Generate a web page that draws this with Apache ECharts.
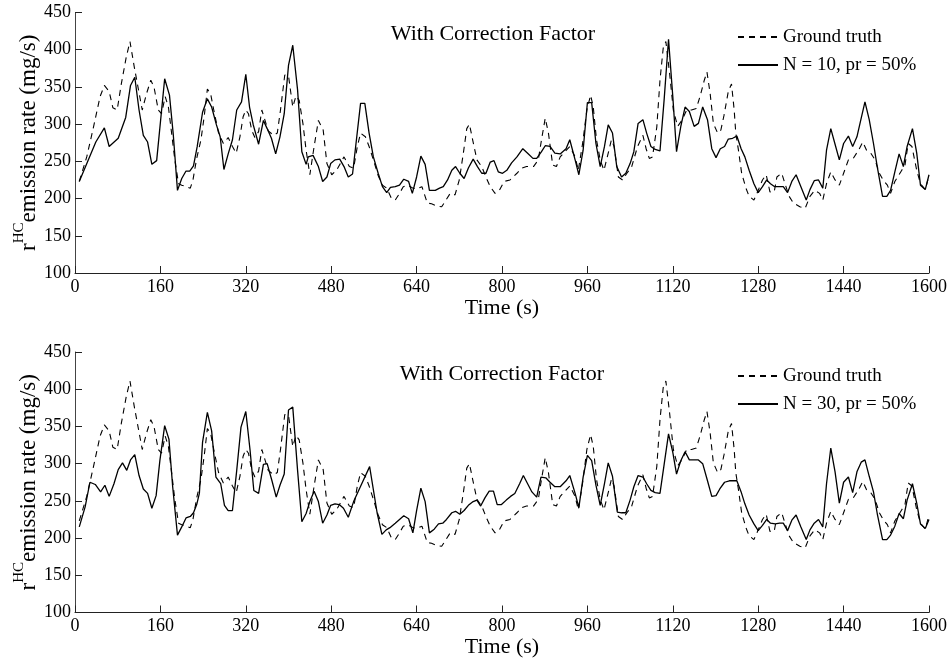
<!DOCTYPE html>
<html>
<head>
<meta charset="utf-8">
<title>HC emission rate</title>
<script src="https://cdn.jsdelivr.net/npm/echarts@6/dist/echarts.min.js"></script>
<style>
  html, body { margin: 0; padding: 0; background: #fff; }
  #chart { width: 949px; height: 660px; }
</style>
</head>
<body>
<div id="chart"></div>
<script>
// ground truth (same in both panels)
const gtTime = [8, 22, 34, 47, 55, 64, 71, 79, 87, 96, 103, 111, 119, 126, 134, 142, 148, 156, 162, 169, 175, 181, 187, 194, 200, 208, 216, 221, 228, 236, 242, 248, 254, 260, 269, 278, 287, 295, 302, 309, 315, 320, 325, 331, 337, 344, 350, 356, 362, 372, 379, 385, 393, 400, 408, 414, 420, 427, 433, 440, 448, 456, 465, 472, 481, 490, 504, 514, 522, 529, 535, 544, 551, 559, 568, 576, 584, 593, 600, 608, 615, 624, 633, 641, 650, 660, 668, 678, 687, 695, 703, 712, 720, 728, 734, 739, 745, 753, 762, 771, 778, 787, 795, 804, 815, 828, 837, 846, 859, 868, 874, 881, 887, 895, 902, 909, 918, 927, 937, 943, 951, 959, 966, 971, 977, 984, 991, 999, 1005, 1010, 1018, 1026, 1034, 1043, 1054, 1064, 1070, 1076, 1082, 1090, 1096, 1102, 1107, 1114, 1121, 1129, 1137, 1146, 1155, 1164, 1171, 1179, 1184, 1190, 1196, 1204, 1210, 1216, 1224, 1230, 1235, 1238, 1243, 1249, 1257, 1263, 1272, 1280, 1288, 1295, 1302, 1310, 1315, 1324, 1332, 1338, 1346, 1358, 1368, 1377, 1386, 1395, 1401, 1408, 1416, 1424, 1432, 1440, 1449, 1458, 1468, 1476, 1483, 1491, 1499, 1507, 1514, 1522, 1528, 1536, 1549, 1555, 1561, 1568, 1577, 1584, 1593, 1600];
const gtRate = [223, 256, 294, 337, 352, 344, 322, 319, 355, 390, 411, 377, 346, 319, 341, 359, 350, 319, 314, 337, 323, 288, 252, 220, 218, 216, 214, 225, 254, 279, 310, 347, 341, 319, 288, 274, 282, 270, 261, 283, 310, 319, 314, 292, 282, 290, 319, 305, 291, 285, 288, 319, 366, 365, 323, 338, 332, 301, 265, 232, 270, 305, 292, 247, 232, 238, 256, 243, 241, 270, 288, 283, 270, 252, 231, 218, 214, 200, 198, 207, 216, 218, 214, 213, 216, 194, 193, 190, 189, 198, 207, 205, 225, 263, 294, 300, 279, 252, 243, 227, 216, 207, 211, 223, 225, 234, 241, 243, 243, 252, 279, 308, 288, 245, 243, 256, 263, 270, 256, 238, 274, 319, 339, 323, 279, 252, 238, 261, 279, 270, 229, 225, 234, 243, 270, 285, 267, 254, 256, 296, 359, 402, 411, 368, 319, 297, 305, 319, 319, 321, 337, 359, 370, 341, 301, 288, 292, 312, 344, 354, 319, 288, 265, 234, 214, 203, 198, 211, 225, 232, 209, 209, 229, 234, 216, 203, 194, 189, 187, 203, 211, 207, 198, 220, 236, 225, 218, 234, 252, 254, 265, 276, 265, 261, 252, 234, 225, 218, 207, 223, 238, 245, 274, 270, 238, 220, 212, 231];

// N = 10, pr = 50%
const n10Time = [8, 39, 55, 64, 81, 95, 104, 112, 120, 128, 136, 144, 153, 168, 177, 184, 192, 200, 208, 215, 222, 229, 239, 248, 256, 265, 272, 279, 287, 295, 303, 312, 320, 327, 334, 344, 353, 360, 368, 376, 384, 392, 400, 408, 417, 425, 433, 437, 446, 456, 464, 472, 479, 487, 496, 504, 512, 520, 535, 543, 551, 559, 568, 576, 584, 591, 600, 608, 616, 625, 632, 640, 648, 656, 664, 675, 683, 690, 698, 706, 713, 721, 729, 737, 746, 754, 762, 770, 778, 785, 793, 801, 809, 818, 828, 839, 848, 858, 865, 874, 881, 890, 899, 909, 920, 927, 937, 944, 952, 960, 968, 976, 984, 992, 999, 1007, 1015, 1024, 1032, 1040, 1047, 1055, 1064, 1071, 1079, 1087, 1096, 1104, 1112, 1120, 1127, 1135, 1143, 1151, 1160, 1168, 1176, 1185, 1193, 1201, 1209, 1217, 1224, 1232, 1240, 1248, 1255, 1263, 1272, 1280, 1288, 1296, 1303, 1311, 1320, 1327, 1335, 1343, 1351, 1360, 1370, 1377, 1385, 1393, 1401, 1408, 1416, 1424, 1432, 1440, 1449, 1457, 1465, 1473, 1480, 1488, 1496, 1503, 1513, 1521, 1528, 1536, 1544, 1552, 1559, 1569, 1577, 1584, 1593, 1600];
const n10Rate = [223, 276, 295, 270, 281, 309, 352, 363, 319, 285, 276, 246, 251, 361, 339, 287, 211, 227, 237, 237, 244, 270, 316, 334, 323, 299, 283, 239, 260, 279, 319, 330, 367, 323, 299, 273, 305, 294, 281, 260, 283, 314, 379, 406, 346, 263, 246, 256, 258, 243, 223, 229, 247, 252, 253, 243, 229, 233, 328, 328, 288, 256, 234, 216, 208, 215, 216, 218, 226, 223, 207, 229, 257, 246, 211, 211, 214, 216, 225, 238, 243, 234, 227, 241, 253, 243, 234, 234, 249, 251, 236, 234, 238, 248, 256, 267, 261, 254, 254, 263, 271, 270, 261, 260, 267, 279, 252, 232, 265, 329, 329, 274, 243, 270, 299, 288, 243, 229, 234, 247, 263, 301, 306, 288, 270, 266, 264, 335, 414, 337, 263, 297, 323, 317, 297, 301, 323, 306, 267, 255, 267, 270, 280, 281, 284, 267, 256, 238, 220, 208, 216, 225, 220, 216, 216, 216, 208, 223, 232, 216, 198, 212, 224, 225, 214, 265, 294, 273, 252, 274, 284, 270, 283, 308, 330, 306, 274, 243, 203, 203, 211, 236, 260, 243, 270, 294, 261, 218, 212, 232];

// N = 30, pr = 50%
const n30Time = [8, 19, 28, 38, 48, 56, 64, 73, 81, 89, 97, 104, 112, 120, 128, 136, 144, 152, 159, 168, 176, 183, 192, 200, 208, 216, 222, 228, 233, 239, 248, 256, 264, 273, 280, 287, 295, 303, 311, 320, 328, 335, 344, 353, 360, 369, 377, 384, 392, 400, 408, 417, 425, 433, 440, 448, 456, 464, 472, 479, 487, 495, 503, 512, 522, 534, 552, 566, 575, 583, 590, 600, 608, 616, 625, 633, 640, 648, 656, 664, 673, 681, 689, 696, 706, 713, 721, 729, 737, 746, 753, 760, 768, 776, 784, 791, 799, 808, 816, 824, 833, 840, 848, 856, 865, 873, 882, 890, 899, 909, 920, 927, 937, 944, 952, 960, 968, 976, 984, 992, 999, 1007, 1016, 1024, 1032, 1040, 1047, 1055, 1064, 1071, 1079, 1087, 1096, 1104, 1112, 1120, 1127, 1135, 1143, 1151, 1160, 1168, 1176, 1185, 1193, 1201, 1208, 1217, 1226, 1233, 1240, 1248, 1255, 1263, 1272, 1280, 1288, 1296, 1303, 1312, 1320, 1327, 1335, 1343, 1351, 1360, 1370, 1377, 1385, 1393, 1401, 1408, 1416, 1424, 1432, 1440, 1449, 1457, 1465, 1473, 1480, 1488, 1496, 1503, 1513, 1521, 1528, 1536, 1544, 1552, 1559, 1569, 1577, 1584, 1593, 1600];
const n30Rate = [215, 242, 275, 272, 262, 271, 256, 273, 292, 301, 291, 305, 312, 284, 266, 260, 240, 257, 304, 351, 333, 269, 204, 215, 227, 229, 234, 245, 260, 329, 369, 344, 282, 273, 244, 237, 237, 291, 349, 370, 318, 264, 260, 299, 300, 277, 255, 271, 286, 372, 376, 291, 222, 233, 249, 263, 249, 220, 231, 244, 246, 245, 240, 228, 249, 268, 296, 234, 205, 211, 214, 220, 225, 230, 226, 207, 237, 267, 249, 207, 212, 219, 220, 225, 234, 236, 232, 237, 244, 249, 251, 243, 254, 263, 263, 245, 245, 251, 256, 260, 273, 284, 273, 262, 255, 282, 281, 275, 269, 269, 277, 284, 260, 241, 282, 311, 304, 271, 244, 273, 301, 283, 235, 234, 234, 251, 269, 284, 282, 273, 264, 261, 260, 300, 340, 315, 286, 304, 316, 305, 305, 305, 300, 277, 256, 257, 266, 275, 277, 277, 277, 262, 246, 231, 219, 210, 217, 225, 220, 219, 220, 220, 210, 224, 231, 215, 198, 211, 220, 225, 215, 273, 321, 289, 247, 275, 282, 261, 289, 302, 305, 283, 262, 233, 198, 198, 204, 216, 233, 226, 251, 273, 247, 219, 213, 225];

const FONT = "Liberation Serif";
const pairs = (ts, vs) => ts.map((t, i) => [t, vs[i]]);
const plain = (v) => String(v); // no thousands separator

function xAxisOpt(gridIndex) {
  return {
    type: "value", gridIndex: gridIndex, min: 0, max: 1600, interval: 160,
    name: "Time (s)", nameLocation: "middle", nameGap: 23,
    nameTextStyle: { fontFamily: FONT, fontSize: 22, color: "#000" },
    axisLine: { lineStyle: { color: "#222", width: 1 } },
    axisTick: { inside: true, length: 7, lineStyle: { color: "#222" } },
    axisLabel: { margin: 5, fontFamily: FONT, fontSize: 18, color: "#000", formatter: plain },
    splitLine: { show: false },
  };
}

function yAxisOpt(gridIndex) {
  return {
    type: "value", gridIndex: gridIndex, min: 100, max: 450, interval: 50,
    name: "{r|r}{sup|HC}{t|emission rate (mg/s)}",
    nameLocation: "middle", nameRotate: 90, nameGap: 35, nameMoveOverlap: false,
    nameTextStyle: {
      fontFamily: FONT, color: "#000",
      rich: {
        r: { fontFamily: FONT, fontSize: 23, lineHeight: 28, verticalAlign: "bottom", color: "#000" },
        sup: { fontFamily: FONT, fontSize: 15, lineHeight: 15, verticalAlign: "top", color: "#000" },
        t: { fontFamily: FONT, fontSize: 23, lineHeight: 28, verticalAlign: "bottom", color: "#000" },
      },
    },
    axisLine: { show: true, lineStyle: { color: "#444", width: 1 } },
    axisTick: { inside: true, length: 7, lineStyle: { color: "#222" } },
    axisLabel: { margin: 4, fontFamily: FONT, fontSize: 18, color: "#000", formatter: plain },
    splitLine: { show: false },
  };
}

function lineSeries(name, data, idx, dashed) {
  return {
    type: "line", name: name, data: data,
    xAxisIndex: idx, yAxisIndex: idx,
    symbol: "none", showSymbol: false, animation: false,
    color: "#000",
    lineStyle: { color: "#000", width: dashed ? 1.1 : 1.3, type: dashed ? [6, 5] : "solid" },
    z: dashed ? 2 : 3,
  };
}

function legendOpt(top, label) {
  return {
    data: ["Ground truth", label],
    orient: "vertical", left: 737, top: top, padding: 0,
    itemWidth: 40, itemHeight: 10, itemGap: 8,
    // hide the marker dot, keep only the line sample
    itemStyle: { opacity: 0 },
    textStyle: { fontFamily: FONT, fontSize: 19, lineHeight: 20, color: "#000" },
  };
}

const el = document.getElementById("chart");
const chart = echarts.init(el, null, { renderer: "canvas" });

chart.setOption({
  backgroundColor: "#fff",
  animation: false,
  title: [
    { text: "With Correction Factor", left: 488, top: 18, textAlign: "center",
      textStyle: { fontFamily: FONT, fontSize: 22, fontWeight: "normal", color: "#000" } },
    { text: "With Correction Factor", left: 497, top: 358, textAlign: "center",
      textStyle: { fontFamily: FONT, fontSize: 22, fontWeight: "normal", color: "#000" } },
  ],
  legend: [legendOpt(27, "N = 10, pr = 50%"), legendOpt(366, "N = 30, pr = 50%")],
  grid: [
    { left: 75, right: 20, top: 12.5, height: 260.5, outerBoundsMode: "none" },
    { left: 75, right: 20, top: 352, height: 260.5, outerBoundsMode: "none" },
  ],
  xAxis: [xAxisOpt(0), xAxisOpt(1)],
  yAxis: [yAxisOpt(0), yAxisOpt(1)],
  series: [
    lineSeries("Ground truth", pairs(gtTime, gtRate), 0, true),
    lineSeries("N = 10, pr = 50%", pairs(n10Time, n10Rate), 0, false),
    lineSeries("Ground truth", pairs(gtTime, gtRate), 1, true),
    lineSeries("N = 30, pr = 50%", pairs(n30Time, n30Rate), 1, false),
  ],
});
</script>
</body>
</html>
